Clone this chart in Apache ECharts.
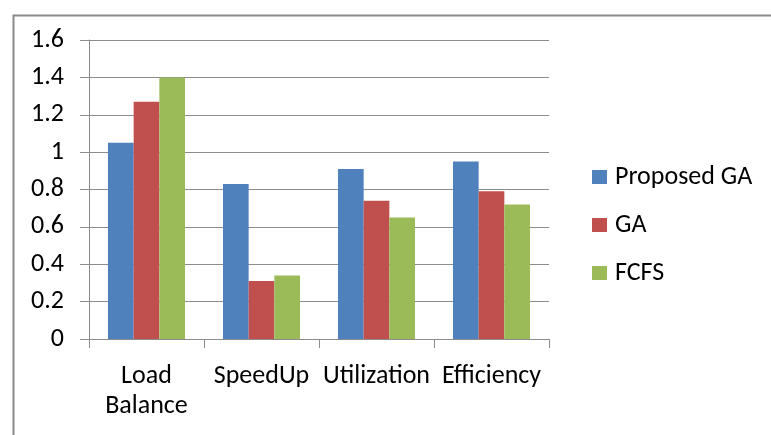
<!DOCTYPE html>
<html>
<head>
<meta charset="utf-8">
<script src="https://cdn.jsdelivr.net/npm/echarts@6/dist/echarts.min.js"></script>
<style>
  html, body { margin: 0; padding: 0; background: #fff; }
  #chart { width: 771px; height: 435px; }
</style>
</head>
<body>
<div id="chart"></div>
<script>
// Metrics compared across three scheduling approaches
const categories = ['Load Balance', 'SpeedUp', 'Utilization', 'Efficiency'];
const proposedGA = [1.05, 0.83, 0.91, 0.95];
const ga = [1.27, 0.31, 0.74, 0.79];
const fcfs = [1.40, 0.34, 0.65, 0.72];
const seriesNames = ['Proposed GA', 'GA', 'FCFS'];

const FONT = "'Carlito', 'Liberation Sans Narrow', 'DejaVu Sans Condensed', sans-serif";
const GRID_COLOR = '#8c8c8c';
const FONT_SIZE = 26;

const chart = echarts.init(document.getElementById('chart'), null, { renderer: 'canvas' });

chart.setOption({
  animation: false,
  backgroundColor: '#ffffff',
  color: ['#4F81BD', '#C0504D', '#9BBB59'],
  graphic: [{
    type: 'rect',
    left: 11, top: 13,
    shape: { width: 780, height: 440 },
    style: { fill: 'none', stroke: '#8a8a8a', lineWidth: 2 },
    silent: true,
    z: -10
  }],
  grid: { left: 89, right: 222, top: 40, bottom: 96, containLabel: false },
  legend: {
    orient: 'vertical',
    left: 592,
    top: 164,
    padding: 0,
    itemWidth: 15,
    itemHeight: 14,
    itemGap: 22,
    icon: 'rect',
    textStyle: { fontFamily: FONT, fontSize: FONT_SIZE, lineHeight: 26, color: '#000', padding: [0, 0, 0, 3] },
    data: seriesNames
  },
  xAxis: {
    type: 'category',
    data: categories,
    axisLine: { lineStyle: { color: GRID_COLOR, width: 1 } },
    axisTick: { show: true, length: 9, lineStyle: { color: GRID_COLOR } },
    axisLabel: {
      fontFamily: FONT,
      fontSize: FONT_SIZE,
      color: '#000',
      margin: 22,
      lineHeight: 30,
      interval: 0,
      formatter: v => v.replace(' ', '\n')
    }
  },
  yAxis: {
    type: 'value',
    min: 0,
    max: 1.6,
    interval: 0.2,
    axisLine: { show: true, lineStyle: { color: GRID_COLOR, width: 1 } },
    axisTick: { show: true, length: 9, lineStyle: { color: GRID_COLOR } },
    splitLine: { show: true, lineStyle: { color: GRID_COLOR, width: 1 } },
    axisLabel: {
      fontFamily: FONT,
      fontSize: FONT_SIZE,
      color: '#000',
      margin: 25,
      formatter: v => String(+v.toFixed(1))
    }
  },
  series: [
    { name: seriesNames[0], type: 'bar', data: proposedGA, barGap: '0%', barCategoryGap: '33%' },
    { name: seriesNames[1], type: 'bar', data: ga, barGap: '0%', barCategoryGap: '33%' },
    { name: seriesNames[2], type: 'bar', data: fcfs, barGap: '0%', barCategoryGap: '33%' }
  ]
});
</script>
</body>
</html>
